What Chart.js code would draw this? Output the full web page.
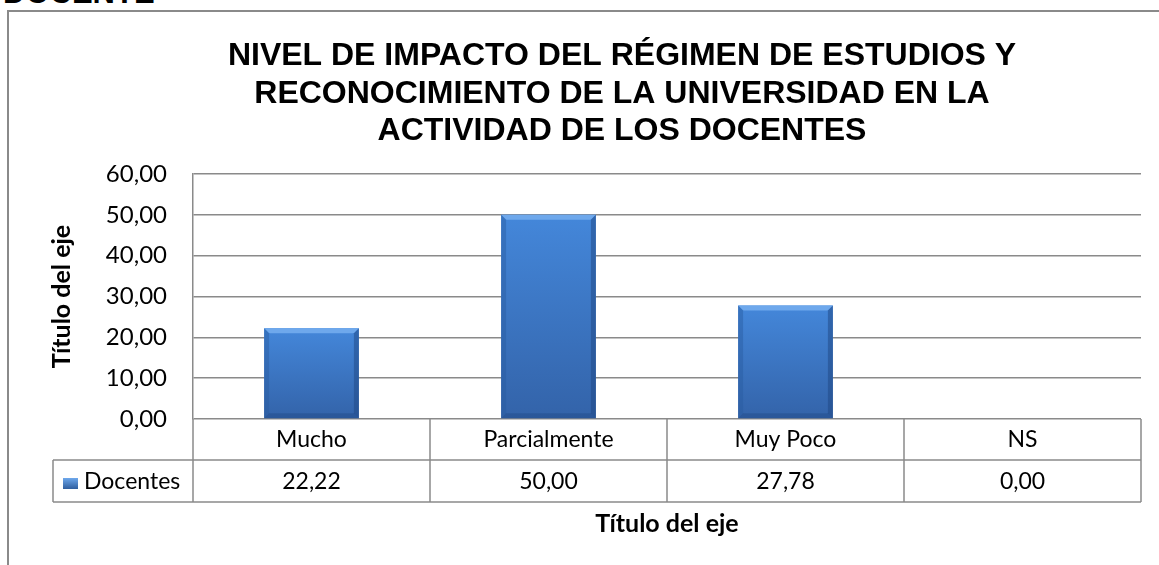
<!DOCTYPE html>
<html lang="es">
<head>
    <meta charset="UTF-8">
    <title>Nivel de impacto del régimen de estudios</title>
    <script src="https://cdn.jsdelivr.net/npm/chart.js"></script>
    <style>
        html, body { margin: 0; padding: 0; background: #fff; overflow: hidden; }
        #wrap { position: relative; width: 1159px; height: 565px; }
        #cut {
            position: absolute; left: 3px; top: -22px;
            font: bold 31px "Liberation Sans", Arial, sans-serif;
            line-height: 30px; color: #000; white-space: nowrap;
        }
        canvas { position: absolute; left: 0; top: 0; }
    </style>
</head>
<body>
<div id="wrap">
    <div id="cut">DOCENTE</div>
    <canvas id="chart" width="1159" height="565"></canvas>
</div>

<script>
    // datos del grafico
    const categorias = ['Mucho', 'Parcialmente', 'Muy Poco', 'NS'];
    const docentes = [22.22, 50.00, 27.78, 0.00];
    const serieNombre = 'Docentes';
    const tituloLineas = [
        'NIVEL DE IMPACTO DEL RÉGIMEN DE ESTUDIOS Y',
        'RECONOCIMIENTO DE LA UNIVERSIDAD EN LA',
        'ACTIVIDAD DE LOS DOCENTES'
    ];
    const tituloEje = 'Título del eje';
    const ejeMin = 0, ejeMax = 60, ejePaso = 10;

    const coma = v => v.toFixed(2).replace('.', ',');
    const fuente = 'Lato, "Open Sans", sans-serif';
    const gris = '#8a8a8a';

    // filas de la tabla de datos debajo del eje
    const filaCat = 41, filaVal = 42, legIzq = 53;

    const marco = {
        id: 'marco',
        beforeDraw(chart) {
            const c = chart.ctx;
            c.save();
            c.strokeStyle = gris;
            c.lineWidth = 2;
            c.beginPath();
            c.moveTo(8, 565); c.lineTo(8, 11); c.lineTo(1159, 11);
            c.stroke();

            // titulo
            c.fillStyle = '#000';
            c.font = 'bold 32px "Liberation Sans", Arial, sans-serif';
            c.textAlign = 'center';
            c.textBaseline = 'alphabetic';
            tituloLineas.forEach((t, i) => c.fillText(t, 622, 65 + i * 37.5));
            c.restore();
        }
    };

    const bisel = {
        id: 'bisel',
        afterDatasetsDraw(chart) {
            const c = chart.ctx;
            const meta = chart.getDatasetMeta(0);
            c.save();
            meta.data.forEach(b => {
                const l = b.x - b.width / 2, r = b.x + b.width / 2;
                const t = b.y, btm = b.base;
                if (btm - t < 2) return;
                const k = 5;
                const poly = (pts, col) => {
                    c.beginPath();
                    c.moveTo(pts[0][0], pts[0][1]);
                    pts.slice(1).forEach(p => c.lineTo(p[0], p[1]));
                    c.closePath();
                    c.fillStyle = col;
                    c.fill();
                };
                poly([[l, t], [r, t], [r - k, t + k], [l + k, t + k]], '#6ea8ec');
                poly([[l, t], [l + k, t + k], [l + k, btm - k], [l, btm]], 'rgba(40,90,160,0.45)');
                poly([[r, t], [r - k, t + k], [r - k, btm - k], [r, btm]], 'rgba(30,70,130,0.5)');
                poly([[l, btm], [l + k, btm - k], [r - k, btm - k], [r, btm]], 'rgba(30,70,130,0.4)');
            });
            c.restore();
        }
    };

    const tabla = {
        id: 'tabla',
        afterDraw(chart) {
            const c = chart.ctx;
            const x = chart.scales.x;
            const area = chart.chartArea;
            const y0 = area.bottom, y1 = y0 + filaCat, y2 = y1 + filaVal;
            const paso = x.getPixelForValue(1) - x.getPixelForValue(0);
            c.save();
            c.strokeStyle = gris;
            c.lineWidth = 1.5;
            c.beginPath();
            c.moveTo(legIzq, y1); c.lineTo(area.right, y1);
            c.moveTo(legIzq, y2); c.lineTo(area.right, y2);
            c.moveTo(legIzq, y1); c.lineTo(legIzq, y2);
            c.moveTo(area.left, y0); c.lineTo(area.left, y2);
            categorias.forEach((_, i) => {
                const xr = x.getPixelForValue(i) + paso / 2;
                c.moveTo(xr, y0); c.lineTo(xr, y2);
            });
            c.stroke();

            c.fillStyle = '#000';
            c.font = '23px ' + fuente;
            c.textBaseline = 'middle';
            c.textAlign = 'center';
            docentes.forEach((v, i) => c.fillText(coma(v), x.getPixelForValue(i), (y1 + y2) / 2 + 1));

            // leyenda
            const g = c.createLinearGradient(0, y1 + 18, 0, y1 + 29);
            g.addColorStop(0, '#6ea8ec');
            g.addColorStop(1, '#2f5e9e');
            c.fillStyle = g;
            c.fillRect(63, y1 + 18, 15, 11);
            c.fillStyle = '#000';
            c.textAlign = 'left';
            c.fillText(serieNombre, 84, (y1 + y2) / 2 + 1);
            c.restore();
        }
    };

    new Chart(document.getElementById('chart'), {
        type: 'bar',
        data: {
            labels: categorias,
            datasets: [{
                label: serieNombre,
                data: docentes,
                barPercentage: 0.4,
                categoryPercentage: 1,
                borderWidth: 0,
                backgroundColor: (ctx) => {
                    const chart = ctx.chart;
                    if (!chart.chartArea || ctx.raw === undefined) return '#3f7cc8';
                    const y = chart.scales.y;
                    const top = y.getPixelForValue(ctx.raw);
                    const bot = y.getPixelForValue(0);
                    if (bot - top < 1) return '#3f7cc8';
                    const g = chart.ctx.createLinearGradient(0, top, 0, bot);
                    g.addColorStop(0, '#4487da');
                    g.addColorStop(1, '#3363a9');
                    return g;
                }
            }]
        },
        options: {
            responsive: false,
            animation: false,
            layout: { padding: { left: 0, top: 174, right: 18, bottom: 0 } },
            plugins: {
                legend: { display: false },
                tooltip: { enabled: false }
            },
            scales: {
                x: {
                    grid: { display: false, drawTicks: false },
                    border: { display: false },
                    ticks: { color: '#000', font: { family: fuente, size: 23 }, padding: 7 },
                    title: {
                        display: true, text: tituloEje, color: '#000',
                        font: { family: fuente, size: 25, weight: 'bold' },
                        padding: { bottom: 26 }
                    },
                    afterFit: s => { s.height = 146; }
                },
                y: {
                    min: ejeMin, max: ejeMax,
                    grid: { color: gris, lineWidth: 1.5, drawTicks: false },
                    border: { display: true, color: gris, width: 1.5 },
                    ticks: {
                        stepSize: ejePaso, color: '#000', padding: 26,
                        font: { family: fuente, size: 24 },
                        callback: v => coma(v)
                    },
                    title: {
                        display: true, text: tituloEje, color: '#000',
                        font: { family: fuente, size: 25, weight: 'bold' },
                        padding: { top: 47 }
                    },
                    afterFit: s => { s.width = 193; }
                }
            }
        },
        plugins: [marco, bisel, tabla]
    });
</script>
</body>
</html>
